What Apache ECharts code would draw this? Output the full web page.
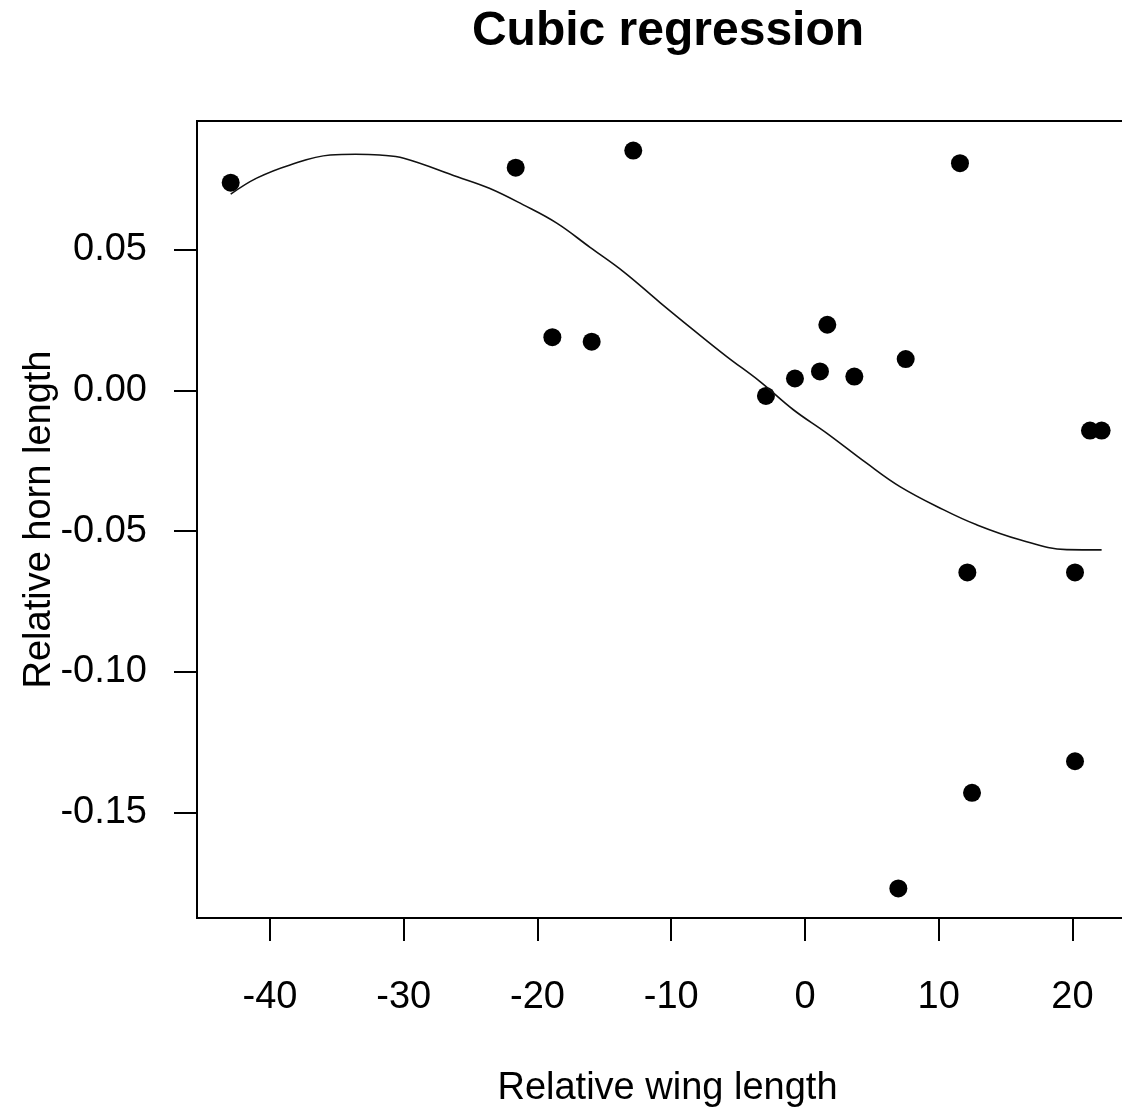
<!DOCTYPE html>
<html>
<head>
<meta charset="utf-8">
<title>Cubic regression</title>
<script src="https://cdn.jsdelivr.net/npm/echarts@6/dist/echarts.min.js"></script>
<style>
    html, body { margin: 0; padding: 0; background: #fff; }
    #chart { width: 1122px; height: 1108px; }
</style>
</head>
<body>
<div id="chart"></div>
<script>
// observed points
const wingLength = [-42.94, -21.63, -18.89, -15.95, -12.84, -2.92, -0.75, 1.12, 1.67, 3.69,
    6.98, 7.53, 11.59, 12.14, 12.49, 20.19, 20.19, 21.31, 22.18];
const hornLength = [0.0738, 0.0791, 0.0189, 0.0173, 0.0852, -0.0020, 0.0042, 0.0067, 0.0233, 0.0049,
    -0.1770, 0.0111, 0.0807, -0.0647, -0.1430, -0.0647, -0.1318, -0.0143, -0.0143];

// fitted cubic curve
const fitWing = [-42.94, -41.0, -38.5, -35.5, -33.6, -31.8, -30.0, -26.0, -23.6, -21.06, -18.56,
    -16.07, -13.58, -10.84, -8.35, -5.85, -3.36, -0.87, 1.62, 4.61, 7.10, 10.34, 12.84, 16.07, 19.57, 22.18];
const fitHorn = [0.0697, 0.0754, 0.0801, 0.0836, 0.0839, 0.0836, 0.0825, 0.0759, 0.0718, 0.0659, 0.0594,
    0.0508, 0.0422, 0.0312, 0.0215, 0.0120, 0.0031, -0.0069, -0.0152, -0.0259, -0.0342, -0.0424, -0.0478,
    -0.0531, -0.0566, -0.0567];

const xTicks = [-40, -30, -20, -10, 0, 10, 20];
const yTicks = [-0.15, -0.10, -0.05, 0, 0.05];

const FONT = '"Liberation Sans", Arial, sans-serif';

const chart = echarts.init(document.getElementById('chart'));

const axisText = { color: '#000', fontFamily: FONT, fontSize: 38 };

chart.setOption({
    backgroundColor: '#fff',
    animation: false,
    title: {
        text: 'Cubic regression',
        left: 663, top: 3, textAlign: 'center',
        textStyle: { color: '#000', fontFamily: FONT, fontSize: 48, fontWeight: 'bold' }
    },
    grid: {
        left: 197, top: 121, width: 941, height: 797,
        outerBoundsMode: 'none',
        show: true, borderColor: '#000', borderWidth: 2, backgroundColor: 'transparent'
    },
    xAxis: {
        type: 'value', min: -45.46, max: 24.9,
        name: 'Relative wing length', nameLocation: 'middle', nameGap: 152, nameMoveOverlap: false,
        nameTextStyle: axisText,
        axisLine: { show: false, onZero: false },
        splitLine: { show: false },
        axisTick: { show: true, inside: false, length: 23, customValues: xTicks, lineStyle: { color: '#000', width: 2 } },
        axisLabel: { ...axisText, margin: 61, customValues: xTicks, formatter: v => String(v) }
    },
    yAxis: {
        type: 'value', min: -0.1875, max: 0.0957,
        name: 'Relative horn length', nameLocation: 'middle', nameGap: 138, nameRotate: 90, nameMoveOverlap: false,
        nameTextStyle: axisText,
        axisLine: { show: false, onZero: false },
        splitLine: { show: false },
        axisTick: { show: true, inside: false, length: 23, customValues: yTicks, lineStyle: { color: '#000', width: 2 } },
        axisLabel: { ...axisText, margin: 50, customValues: yTicks, formatter: v => v.toFixed(2) }
    },
    series: [
        {
            name: 'fit', type: 'line', smooth: 0.4, showSymbol: false,
            lineStyle: { color: '#111', width: 1.6 },
            data: fitWing.map((x, i) => [x, fitHorn[i]])
        },
        {
            name: 'observed', type: 'scatter', symbol: 'circle', symbolSize: 18,
            itemStyle: { color: '#000', opacity: 1 },
            data: wingLength.map((x, i) => [x, hornLength[i]])
        }
    ]
});
</script>
</body>
</html>
